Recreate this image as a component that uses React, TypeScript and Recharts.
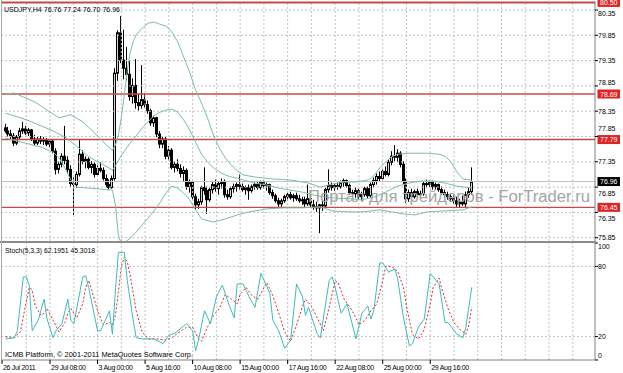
import React from 'react';
import { ComposedChart, Bar, Line, XAxis, YAxis, ReferenceLine } from 'recharts';

// ---------- DATA ----------
// USDJPY H4 candles [open, high, low, close], bar index = position in array
const candles: [number, number, number, number][] = [
  [78.02,78.10,77.92,77.96],[77.96,78.04,77.85,77.90],[77.90,77.98,77.80,77.86],[77.86,77.92,77.66,77.72],
  [77.72,77.88,77.68,77.84],[77.84,78.02,77.80,77.96],[77.96,78.14,77.90,78.00],[78.00,78.06,77.88,77.92],
  [77.92,78.02,77.86,77.98],[77.98,78.00,77.76,77.80],[77.80,77.88,77.66,77.72],[77.72,77.84,77.68,77.80],
  [77.80,77.86,77.70,77.76],[77.76,77.84,77.68,77.78],[77.78,77.82,77.66,77.70],[77.70,77.80,77.64,77.76],
  [77.76,77.78,77.52,77.56],[77.56,77.62,77.10,77.20],[77.20,77.36,77.12,77.30],[77.30,77.52,77.24,77.46],
  [77.46,78.06,77.30,77.38],[77.38,77.46,77.12,77.20],[77.20,77.28,76.86,76.92],[76.92,77.04,76.30,76.90],
  [76.90,77.16,76.84,77.10],[77.10,77.80,77.06,77.50],[77.50,77.58,77.30,77.36],[77.36,77.46,77.22,77.40],
  [77.40,77.44,77.20,77.24],[77.24,77.36,77.12,77.30],[77.30,77.34,77.04,77.10],[77.10,77.28,77.06,77.22],
  [77.22,77.34,77.14,77.18],[77.18,77.24,76.98,77.02],[77.02,77.10,76.84,76.90],[76.90,77.00,76.80,76.84],
  [76.84,77.08,76.82,77.02],[77.02,79.20,76.98,79.10],[79.10,79.95,78.95,79.90],[79.90,80.23,79.30,79.36],
  [79.36,79.96,78.98,79.20],[79.20,79.62,78.96,79.08],[79.08,79.36,78.56,78.64],[78.64,79.00,78.50,78.86],
  [78.86,79.38,78.40,78.52],[78.52,78.70,78.36,78.46],[78.46,79.26,78.40,78.58],[78.58,78.70,78.42,78.48],
  [78.48,78.56,78.30,78.36],[78.36,78.40,78.06,78.12],[78.12,78.26,78.04,78.22],[78.22,78.24,77.84,77.90],
  [77.90,77.96,77.62,77.70],[77.70,77.86,77.62,77.80],[77.80,77.84,77.40,77.46],[77.46,77.66,77.38,77.58],
  [77.58,77.62,77.20,77.24],[77.24,77.36,77.14,77.30],[77.30,77.40,77.16,77.22],[77.22,77.30,77.04,77.12],
  [77.12,77.26,76.96,77.18],[77.18,77.22,76.80,76.86],[76.86,77.00,76.74,76.94],[76.94,76.98,76.60,76.66],
  [76.66,76.72,76.40,76.50],[76.50,76.62,76.42,76.56],[76.56,76.88,76.50,76.84],[76.84,77.24,76.70,76.78],
  [76.78,76.86,76.32,76.60],[76.60,76.84,76.56,76.80],[76.80,76.96,76.72,76.90],[76.90,77.00,76.76,76.82],
  [76.82,76.96,76.70,76.92],[76.92,77.02,76.82,76.96],[76.96,77.00,76.64,76.70],[76.70,76.80,76.60,76.66],
  [76.66,76.86,76.62,76.82],[76.82,76.92,76.74,76.86],[76.86,76.94,76.76,76.90],[76.90,77.10,76.80,76.86],
  [76.86,76.92,76.76,76.80],[76.80,76.88,76.70,76.84],[76.84,76.90,76.60,76.78],[76.78,76.90,76.74,76.86],
  [76.86,76.94,76.80,76.90],[76.90,76.96,76.80,76.84],[76.84,76.98,76.80,76.94],[76.94,76.98,76.82,76.88],
  [76.88,76.94,76.78,76.90],[76.90,76.92,76.70,76.74],[76.74,76.80,76.62,76.68],[76.68,76.72,76.54,76.58],
  [76.58,76.64,76.46,76.52],[76.52,76.62,76.46,76.58],[76.58,76.70,76.54,76.66],[76.66,76.74,76.58,76.70],
  [76.70,76.76,76.60,76.64],[76.64,76.72,76.56,76.68],[76.68,76.74,76.58,76.62],[76.62,76.70,76.54,76.58],
  [76.58,76.66,76.50,76.60],[76.60,76.66,76.46,76.52],[76.52,76.90,76.48,76.62],[76.62,76.70,76.44,76.50],
  [76.50,76.60,76.40,76.46],[76.46,76.56,76.36,76.44],[76.44,76.52,75.94,76.50],[76.50,76.60,76.38,76.48],
  [76.48,76.84,76.44,76.80],[76.80,77.20,76.74,76.88],[76.88,76.94,76.78,76.84],[76.84,76.92,76.78,76.88],
  [76.88,76.94,76.80,76.86],[76.86,76.98,76.82,76.94],[76.94,77.02,76.86,76.98],[76.98,77.00,76.84,76.88],
  [76.88,76.92,76.70,76.74],[76.74,76.80,76.66,76.72],[76.72,76.84,76.64,76.78],[76.78,76.82,76.62,76.66],
  [76.66,76.76,76.58,76.70],[76.70,76.86,76.66,76.82],[76.82,76.86,76.62,76.68],[76.68,76.94,76.64,76.90],
  [76.90,77.04,76.84,76.98],[76.98,77.12,76.90,77.06],[77.06,77.16,76.96,77.02],[77.02,77.20,76.98,77.16],
  [77.16,77.26,77.06,77.10],[77.10,77.40,77.06,77.34],[77.34,77.56,77.28,77.46],[77.46,77.68,77.36,77.44],
  [77.44,77.60,77.34,77.52],[77.52,77.56,77.24,77.30],[77.30,77.36,76.90,76.96],[76.96,77.02,76.54,76.62],
  [76.62,76.80,76.56,76.74],[76.74,76.82,76.60,76.66],[76.66,76.80,76.62,76.76],[76.76,76.82,76.64,76.70],
  [76.70,76.78,76.62,76.72],[76.72,76.96,76.68,76.92],[76.92,77.00,76.84,76.90],[76.90,76.98,76.84,76.94],
  [76.94,76.98,76.80,76.86],[76.86,76.94,76.80,76.90],[76.90,76.92,76.76,76.80],[76.80,76.86,76.70,76.74],
  [76.74,76.80,76.64,76.70],[76.70,76.76,76.60,76.66],[76.66,76.72,76.56,76.62],[76.62,76.70,76.52,76.58],
  [76.58,76.66,76.46,76.52],[76.52,76.62,76.44,76.56],[76.56,76.68,76.48,76.52],[76.52,76.76,76.46,76.70],
  [76.70,76.84,76.64,76.76],[76.76,77.24,76.70,76.96],
];

// Bollinger bands [bar, price]
const bbUpper: [number, number][] = [
  [0,78.69],[3,78.71],[6,78.63],[10,78.53],[14,78.37],[18,78.22],[22,78.28],[26,78.14],[30,77.92],[34,77.68],
  [36,77.58],[37,77.68],[38,77.88],[39,78.22],[40,78.67],[41,79.16],[42,79.52],[43,79.72],[44,79.86],[46,79.99],
  [48,80.09],[50,80.11],[52,80.07],[54,80.03],[56,79.92],[58,79.72],[60,79.42],[62,79.12],[64,78.77],[66,78.51],
  [68,78.22],[70,77.88],[72,77.62],[74,77.43],[76,77.29],[78,77.17],[80,77.09],[84,77.05],[90,77.01],[96,76.99],
  [102,76.93],[106,76.85],[110,76.91],[114,76.95],[118,76.95],[122,76.99],[124,77.07],[126,77.23],[128,77.35],
  [130,77.45],[132,77.50],[136,77.52],[142,77.52],[146,77.50],[148,77.46],[150,77.35],[152,77.15],[154,77.01],[157,76.99],
];
const bbMiddle: [number, number][] = [
  [0,78.31],[4,78.24],[8,78.16],[12,78.06],[16,77.96],[20,77.84],[24,77.66],[28,77.45],[32,77.32],[36,77.19],
  [37,77.27],[38,77.38],[40,77.56],[42,77.72],[44,77.86],[46,78.02],[48,78.14],[50,78.26],[52,78.33],[54,78.37],
  [56,78.39],[58,78.33],[60,78.18],[62,77.98],[64,77.74],[66,77.50],[68,77.35],[70,77.23],[72,77.15],[74,77.09],
  [76,77.05],[78,77.03],[80,76.99],[84,76.93],[88,76.89],[92,76.83],[96,76.79],[100,76.75],[104,76.69],[108,76.65],
  [112,76.63],[116,76.62],[120,76.60],[124,76.65],[128,76.75],[132,76.87],[136,76.93],[140,76.97],[144,76.97],
  [148,76.93],[152,76.87],[157,76.83],
];
const bbLower: [number, number][] = [
  [0,77.82],[4,77.76],[8,77.70],[12,77.64],[16,77.54],[18,77.43],[20,77.23],[22,76.99],[24,76.85],[28,76.83],
  [32,76.81],[36,76.79],[37,76.50],[38,75.90],[39,75.73],[40,75.75],[42,75.84],[44,75.96],[46,76.10],[48,76.24],
  [50,76.38],[52,76.54],[54,76.73],[56,76.87],[58,76.83],[60,76.73],[62,76.60],[64,76.40],[66,76.22],[70,76.16],
  [74,76.22],[78,76.30],[82,76.36],[88,76.42],[94,76.44],[100,76.44],[106,76.46],[110,76.38],[116,76.36],[120,76.36],
  [126,76.40],[130,76.36],[134,76.32],[138,76.30],[142,76.36],[148,76.38],[154,76.40],[157,76.46],
];

// Stochastic (5,3,3) [bar, value]
const stochMain: [number, number][] = [
  [0,18],[3,19],[4,25],[6,71],[7,71],[8,64],[9,25],[11,34],[13,52],[14,35],[16,19],[17,25],[19,31],[21,52],[22,34],
  [23,31],[26,71],[27,72],[28,62],[31,25],[32,25],[35,42],[36,22],[37,59],[38,92],[40,92],[41,68],[43,34],[44,19],
  [46,18],[48,18],[50,18],[53,14],[55,21],[57,23],[60,29],[61,31],[63,25],[64,8],[65,17],[67,42],[69,31],[71,54],
  [73,64],[75,49],[77,36],[78,65],[80,65],[82,54],[84,45],[86,74],[89,57],[90,34],[92,25],[94,10],[96,17],[98,65],
  [100,54],[101,38],[102,45],[105,22],[106,19],[109,68],[110,71],[111,62],[113,40],[115,48],[118,18],[120,40],
  [122,46],[123,35],[124,42],[126,83],[127,83],[129,75],[131,78],[132,70],[134,36],[136,12],[137,14],[139,28],
  [141,35],[143,74],[145,68],[146,65],[148,32],[149,32],[152,22],[154,19],[155,28],[157,62.2],
];
const stochSignal: [number, number][] = [
  [0,20],[3,19],[5,24],[7,50],[8,62],[9,60],[10,46],[12,38],[13,40],[14,44],[16,34],[18,24],[20,32],[21,40],[22,44],
  [24,36],[26,48],[27,62],[28,68],[29,60],[31,42],[33,30],[35,32],[36,30],[37,38],[38,58],[39,80],[40,88],[41,84],
  [42,72],[44,42],[46,24],[48,18],[51,18],[54,17],[56,19],[58,23],[61,28],[63,28],[65,18],[66,16],[68,28],[70,38],
  [72,44],[74,56],[76,52],[78,48],[79,56],[81,62],[83,55],[85,52],[87,62],[88,66],[90,55],[92,40],[94,24],[96,16],
  [98,30],[100,46],[101,52],[103,46],[105,36],[107,25],[108,35],[110,56],[111,68],[112,66],[114,52],[116,45],
  [118,36],[119,30],[121,34],[123,42],[125,48],[127,68],[128,80],[130,80],[132,76],[134,62],[135,46],[137,22],
  [139,18],[141,26],[143,48],[144,62],[146,70],[147,60],[149,44],[151,32],[153,26],[155,22],[156,30],[157,45.3],
];

const priceTicks = [80.35, 79.85, 79.35, 78.85, 78.35, 77.85, 77.35, 76.85, 76.35, 75.85];
const levelLines = [80.50, 78.69, 77.79, 76.45];
const bidPrice = 76.96;
const stochTicks = [0, 20, 80, 100];
const stochLevels = [20, 80];
const firstTimeLabel = '26 Jul 2011';
const timeTickBars = [15, 31, 47, 63, 79, 95, 111, 127, 143];
const timeTickLabels = ['29 Jul 08:00', '3 Aug 00:00', '5 Aug 16:00', '10 Aug 08:00', '15 Aug 00:00',
  '17 Aug 16:00', '22 Aug 08:00', '25 Aug 00:00', '29 Aug 16:00'];
const gridBars = [7, 15, 23, 31, 39, 47, 55, 63, 71, 79, 87, 95, 103, 111, 119, 127, 135, 143, 151, 159, 167, 175, 183, 191];

// ---------- AXIS SETTINGS ----------
const X_MIN = -1.18;
const X_MAX = 198.48;
const Y_MIN = 75.785;
const Y_MAX = 80.528;
const MAIN_PLOT_H = 240;
const PX_PER_UNIT = MAIN_PLOT_H / (Y_MAX - Y_MIN);
const FONT = '"Liberation Sans", Arial, sans-serif';

const candleRows = candles.map(([o, h, l, c], i) => ({ i, o, h, l, c, range: [l, h] }));
const toRows = (arr: [number, number][]) => arr.map(([i, v]) => ({ i, v }));
const xTicks = [X_MIN, ...timeTickBars];
const xLabels = [firstTimeLabel, ...timeTickLabels];
const boxedLevels = [...levelLines, bidPrice];

const Candle = (props: any) => {
  const { x, y, width, height, payload } = props;
  if (x == null || y == null || !payload) return null;
  const top = Math.min(y, y + height);
  const bot = Math.max(y, y + height);
  const { o, h, l, c } = payload;
  const k = (bot - top) / (h - l);
  const py = (p: number) => top + (h - p) * k;
  const cx = Math.floor(x + width / 2) + 0.5;
  const bTop = py(Math.max(o, c));
  const bBot = Math.max(py(Math.min(o, c)), bTop + 1);
  const bull = c >= o;
  return (
    <g>
      <line x1={cx} x2={cx} y1={top} y2={bot} stroke="#000" strokeWidth={1} />
      <rect x={cx - 1} y={bTop} width={2} height={bBot - bTop}
        fill={bull ? '#d4d4d4' : '#000'} stroke="#000" strokeWidth={1} />
    </g>
  );
};

const PriceTick = (props: any) => {
  const { x, y, payload } = props;
  const v = Number(payload.value);
  let shift = 0;
  boxedLevels.forEach((l) => {
    const dist = Math.abs(l - v) * PX_PER_UNIT;
    if (dist < 11.5) {
      const need = 11.5 - dist;
      shift += l > v ? need : -need;
    }
  });
  return (
    <text x={x} y={y + 2.5 + shift} fontSize={7} fontFamily={FONT} fill="#000">{v.toFixed(2)}</text>
  );
};

const StochTick = (props: any) => {
  const { x, y, payload } = props;
  const v = payload.value;
  const dy = v === 100 ? 6 : v === 0 ? -2 : 2.5;
  return <text x={x} y={y + dy} fontSize={7} fontFamily={FONT} fill="#000">{v}</text>;
};

const TimeTick = (props: any) => {
  const { x, y, payload, index } = props;
  const idx = xTicks.indexOf(payload.value);
  const label = xLabels[idx >= 0 ? idx : index];
  return (
    <text x={x + 1} y={y + 6} fontSize={7} letterSpacing={-0.3} fontFamily={FONT} fill="#000">{label}</text>
  );
};

const boxLabel = (text: string, fill: string) => (props: any) => {
  const vb = props.viewBox || {};
  const bx = vb.x + vb.width + 2.5;
  const by = vb.y;
  return (
    <g>
      <rect x={bx} y={by - 4.5} width={22.5} height={9} fill={fill} />
      <text x={bx + 11.25} y={by + 2.6} textAnchor="middle" fontSize={7} fontFamily={FONT} fill="#fff">{text}</text>
    </g>
  );
};

const gridStyle = { stroke: '#c2c2c2', strokeDasharray: '2 2', strokeWidth: 1 };

export default function App() {
  return (
    <div style={{ position: 'absolute', left: 0, top: 0, width: 623, height: 373, background: '#fff', overflow: 'hidden' }}>
      <div style={{ position: 'absolute', left: 0, top: 0 }}>
        <ComposedChart width={623} height={241} data={candleRows} margin={{ top: 1, right: 0, bottom: 0, left: 2 }}>
          <XAxis dataKey="i" type="number" domain={[X_MIN, X_MAX]} allowDataOverflow hide />
          <YAxis orientation="right" width={28} type="number" domain={[Y_MIN, Y_MAX]} allowDataOverflow
            ticks={priceTicks} interval={0} tick={<PriceTick />} tickSize={3} tickMargin={0}
            tickLine={{ stroke: '#000' }} axisLine={{ stroke: '#808080' }} />
          {priceTicks.map((p) => <ReferenceLine key={'hg' + p} y={p} {...gridStyle} />)}
          {gridBars.map((b) => <ReferenceLine key={'vg' + b} x={b} {...gridStyle} />)}
          <ReferenceLine y={bidPrice} stroke="#c0c0c0" strokeWidth={1} />
          {levelLines.map((p) => (
            <ReferenceLine key={'lv' + p} y={p} stroke="#c84848" strokeWidth={p > 80 ? 2 : 1.4}
              label={{ content: boxLabel(p.toFixed(2), '#e02424') }} />
          ))}
          <Line data={toRows(bbUpper)} dataKey="v" type="linear" stroke="#78c0a2" strokeWidth={1} dot={false} isAnimationActive={false} />
          <Line data={toRows(bbMiddle)} dataKey="v" type="linear" stroke="#78c0a2" strokeWidth={1} dot={false} isAnimationActive={false} />
          <Line data={toRows(bbLower)} dataKey="v" type="linear" stroke="#78c0a2" strokeWidth={1} dot={false} isAnimationActive={false} />
          <Bar dataKey="range" barSize={2} isAnimationActive={false} shape={(p: any) => <Candle {...p} />} />
          <ReferenceLine y={bidPrice} stroke="none" label={{ content: boxLabel(bidPrice.toFixed(2), '#000') }} />
        </ComposedChart>
      </div>
      <div style={{ position: 'absolute', left: 0, top: 241 }}>
        <ComposedChart width={623} height={132} data={candleRows} margin={{ top: 2, right: 0, bottom: 0, left: 2 }}>
          <XAxis dataKey="i" type="number" domain={[X_MIN, X_MAX]} allowDataOverflow ticks={xTicks} interval={0}
            height={13} tick={<TimeTick />} tickSize={4} tickMargin={0}
            tickLine={{ stroke: '#000' }} axisLine={{ stroke: '#808080' }} />
          <YAxis orientation="right" width={28} type="number" domain={[0, 100]} allowDataOverflow
            ticks={stochTicks} interval={0} tick={<StochTick />} tickSize={3} tickMargin={0}
            tickLine={{ stroke: '#000' }} axisLine={{ stroke: '#808080' }} />
          {stochLevels.map((v) => <ReferenceLine key={'sl' + v} y={v} {...gridStyle} />)}
          {gridBars.map((b) => <ReferenceLine key={'svg' + b} x={b} {...gridStyle} />)}
          <Line data={toRows(stochSignal)} dataKey="v" type="linear" stroke="#e02828" strokeWidth={1}
            strokeDasharray="2 2" dot={false} isAnimationActive={false} />
          <Line data={toRows(stochMain)} dataKey="v" type="linear" stroke="#3cbcbc" strokeWidth={1}
            dot={false} isAnimationActive={false} />
        </ComposedChart>
      </div>
      <div style={{ position: 'absolute', left: 0, top: 240.5, width: 596, height: 2.5, background: '#8c8c8c' }} />
      <div style={{ position: 'absolute', left: 1, top: 0, width: 1, height: 360, background: '#a8a8a8' }} />
      <svg width={623} height={373} style={{ position: 'absolute', left: 0, top: 0, pointerEvents: 'none' }}>
        <text x={4} y={12} fontSize={7.5} fontFamily={FONT} fill="#000" textLength={116} lengthAdjust="spacingAndGlyphs">
          USDJPY,H4  76.76 77.24 76.70 76.96
        </text>
        <text x={5} y={253} fontSize={7.5} fontFamily={FONT} fill="#000" textLength={90} lengthAdjust="spacingAndGlyphs">
          Stoch(5,3,3) 62.1951 45.3018
        </text>
        <text x={5} y={357} fontSize={7.5} fontFamily={FONT} fill="#000" textLength={188} lengthAdjust="spacingAndGlyphs">
          ICMB Platform, © 2001-2011 MetaQuotes Software Corp.
        </text>
        <text x={308} y={202} fontSize={16} fontFamily={FONT} fill="#a4a4a4" textLength={282} lengthAdjust="spacingAndGlyphs">
          Портал для трейдеров - ForTrader.ru
        </text>
      </svg>
    </div>
  );
}
